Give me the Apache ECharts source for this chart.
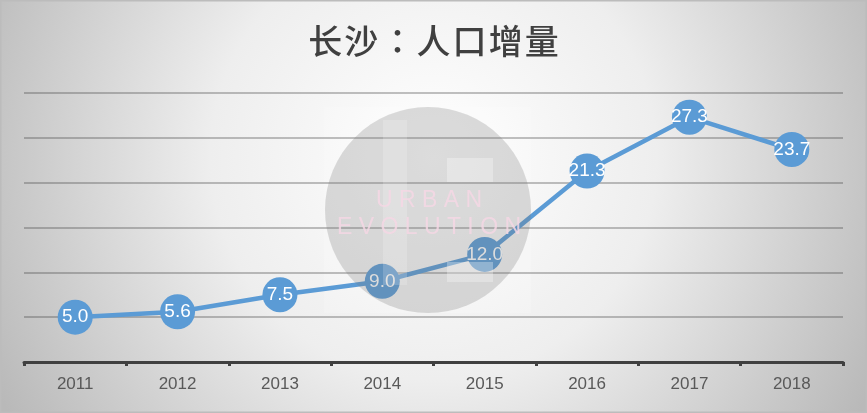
<!DOCTYPE html>
<html><head><meta charset="utf-8">
<script src="https://cdn.jsdelivr.net/npm/echarts@6/dist/echarts.min.js"></script>
<style>html,body{margin:0;padding:0;}#c{width:867px;height:413px;}</style>
</head><body><div id="c"></div>
<script>
const title = '长\u200A沙\u200A：\u200A人\u200A口\u200A增\u200A量';
const years = ['2011','2012','2013','2014','2015','2016','2017','2018'];
const increase = [5.0, 5.6, 7.5, 9.0, 12.0, 21.3, 27.3, 23.7];

const chart = echarts.init(document.getElementById('c'));
chart.setOption({
  backgroundColor: {type:'radial', x:0.5, y:0.38, r:1.2,
    colorStops:[{offset:0,color:'#ffffff'},{offset:0.45,color:'#eeeeee'},{offset:1,color:'#b9b9b9'}]},
  animation:false,
  title:{text:title, left:'center', top:19,
    textStyle:{fontFamily:'Noto Sans CJK TC', fontWeight:500, fontSize:34, color:'#404040'}},
  grid:{left:24, right:24, top:93, bottom:51},
  xAxis:{type:'category', data:years, boundaryGap:true,
    axisLine:{lineStyle:{color:'#404040', width:3}},
    axisTick:{show:true, length:4, lineStyle:{color:'#404040', width:3}},
    axisLabel:{color:'#595959', fontSize:17, fontFamily:'Liberation Sans', margin:14}},
  yAxis:{type:'value', min:0, max:30, interval:5,
    axisLabel:{show:false}, axisLine:{show:false}, axisTick:{show:false},
    splitLine:{lineStyle:{color:'rgba(70,70,70,0.45)', width:1.5}}},
  graphic:[
    {type:'rect', left:324, top:107, z:-1, shape:{width:207, height:206}, style:{fill:'rgba(255,255,255,0.18)'}, silent:true},
    {type:'circle', shape:{cx:428, cy:210, r:103}, z:100, style:{fill:'rgba(120,120,120,0.26)'}, silent:true},
    {type:'rect', shape:{x:383, y:120, width:24, height:165}, z:100, style:{fill:'rgba(255,255,255,0.18)'}, silent:true},
    {type:'rect', shape:{x:447, y:158, width:46, height:24}, z:100, style:{fill:'rgba(255,255,255,0.3)'}, silent:true},
    {type:'rect', shape:{x:447, y:262, width:46, height:20}, z:100, style:{fill:'rgba(255,255,255,0.3)'}, silent:true},
    {type:'text', x:429, y:201, z:101, style:{text:'U R B A N', fontSize:23, fontFamily:'Liberation Sans', fill:'rgba(245,215,228,0.85)', align:'center', verticalAlign:'middle'}, silent:true},
    {type:'text', x:429, y:228, z:101, style:{text:'E V O L U T I O N', fontSize:23, fontFamily:'Liberation Sans', fill:'rgba(245,215,228,0.85)', align:'center', verticalAlign:'middle'}, silent:true},
    {type:'rect', shape:{x:0.5, y:0.5, width:866, height:412}, z:200, style:{fill:'none', stroke:'#bcbcbc', lineWidth:2}, silent:true}
  ],
  series:[{
    type:'line', data:increase, z:50,
    lineStyle:{color:'#5b9bd5', width:4.5},
    itemStyle:{color:'#5b9bd5'},
    symbol:'circle', symbolSize:35,
    label:{show:true, position:'inside', formatter:p=>p.value.toFixed(1),
      color:'#ffffff', fontSize:19, fontFamily:'Liberation Sans'}
  }]
});
</script></body></html>
